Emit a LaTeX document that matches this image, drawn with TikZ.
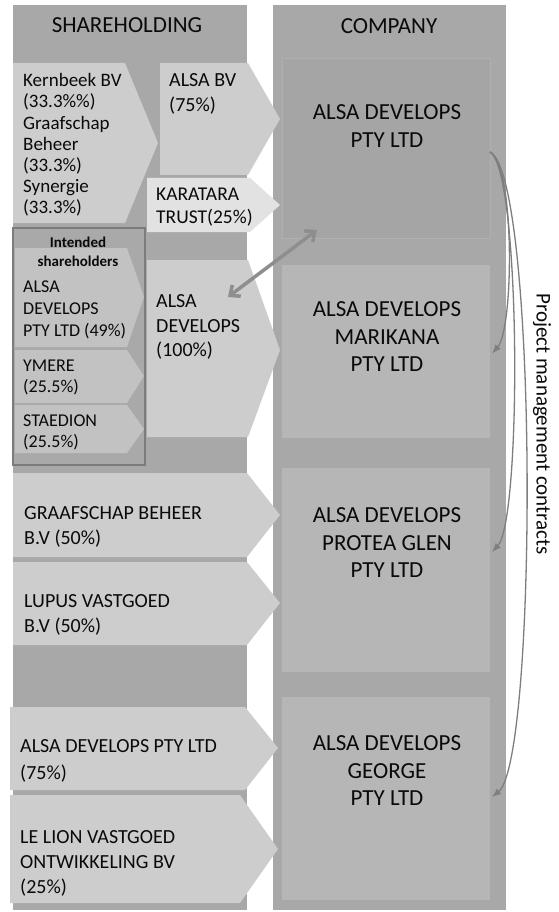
\documentclass[tikz,border=0pt]{standalone}
\usepackage{fontspec}
\setmainfont{Carlito}
\usetikzlibrary{arrows.meta,calc}
\definecolor{colbg}{HTML}{A8A8A8}
\definecolor{chev}{HTML}{CDCDCD}
\definecolor{chevlight}{HTML}{E2E2E2}
\definecolor{innerchev}{HTML}{C2C2C2}
\definecolor{intbg}{HTML}{A9A9A9}
\definecolor{intborder}{HTML}{7C7C7C}
\definecolor{compA}{HTML}{A5A5A5}
\definecolor{compAborder}{HTML}{B0B0B0}
\definecolor{compB}{HTML}{B6B6B6}
\definecolor{arrowgray}{HTML}{8E8E8E}
\definecolor{curvegray}{HTML}{7E7E7E}
\definecolor{txt}{HTML}{0A0A0A}
\tikzset{
  colbox/.style={fill=colbg, draw=none},
  chevshape/.style={fill=chev, draw=none},
  ltext/.style={anchor=west, align=left, inner sep=0pt, text=txt},
  ctext/.style={anchor=center, align=center, inner sep=0pt, text=txt},
  compbox/.style={draw=none, inner sep=0pt},
  pmarrow/.style={draw=curvegray, line width=1.3pt, -{Latex[length=9pt,width=7pt]}},
  dblarrow/.style={draw=arrowgray, line width=3.5pt, {Straight Barb[length=8pt,width=14pt]}-{Straight Barb[length=8pt,width=14pt]}}
}
\begin{document}
\begin{tikzpicture}[x=1pt,y=-1pt]
\useasboundingbox (0,0) rectangle (558,912);
\fill[white] (0,0) rectangle (558,912);
% columns
\path[colbox] (13,5) rectangle (247,910);
\path[colbox] (273,5) rectangle (506,910);
% headers
\node[ctext, font=\fontsize{23}{27}\selectfont] (hshare) at (127,25) {SHAREHOLDING};
\node[ctext, font=\fontsize{23}{27}\selectfont] (hcomp) at (389,26) {COMPANY};
% company boxes
\node[compbox, fill=compA, draw=compAborder, line width=0.8pt, minimum width=208pt, minimum height=180pt] (c1) at (386,148) {};
\node[compbox, fill=compB, minimum width=208pt, minimum height=173pt] (c2) at (386,351.5) {};
\node[compbox, fill=compB, minimum width=208pt, minimum height=204pt] (c3) at (386,570) {};
\node[compbox, fill=compB, minimum width=208pt, minimum height=203pt] (c4) at (386,798.5) {};
\begin{scope}[font=\fontsize{23}{27.5}\selectfont]
\node[ctext] (c1t) at (387,126) {ALSA DEVELOPS\\PTY LTD};
\node[ctext] (c2t) at (387,337) {ALSA DEVELOPS\\MARIKANA\\PTY LTD};
\node[ctext] (c3t) at (387,543) {ALSA DEVELOPS\\PROTEA GLEN\\PTY LTD};
\node[ctext] (c4t) at (387,771) {ALSA DEVELOPS\\GEORGE\\PTY LTD};
\end{scope}
% chevrons
\path[chevshape] (13,63) -- (125,63) -- (158,143) -- (125,223) -- (13,223) -- cycle;
\path[chevshape] (160,63) -- (248,63) -- (280,119) -- (248,175) -- (160,175) -- cycle;
\path[chevshape, fill=chevlight] (147,178) -- (250,178) -- (280,205) -- (250,232) -- (147,232) -- cycle;
\path[chevshape] (147,260) -- (248,260) -- (280,350) -- (248,437) -- (147,437) -- cycle;
\path[chevshape] (13,473) -- (247,473) -- (280,515) -- (247,557) -- (13,557) -- cycle;
\path[chevshape] (13,562) -- (247,562) -- (280,603) -- (247,645) -- (13,645) -- cycle;
\path[chevshape] (10,707) -- (245,707) -- (278,748) -- (245,790) -- (10,790) -- cycle;
\path[chevshape] (10,795) -- (240,795) -- (278,849) -- (240,903) -- (10,903) -- cycle;
% intended shareholders box
\path[fill=intbg, draw=intborder, line width=1.5pt] (13,228) rectangle (145,465);
\path[fill=innerchev] (15,248) -- (127,248) -- (144,297) -- (127,347) -- (15,347) -- cycle;
\path[fill=innerchev] (15,350) -- (127,350) -- (144,376) -- (127,403) -- (15,403) -- cycle;
\path[fill=innerchev] (15,405) -- (127,405) -- (144,429) -- (127,453) -- (15,453) -- cycle;
\node[ctext, font=\bfseries\fontsize{15}{19}\selectfont] (ish) at (78,252) {Intended\\shareholders};
% shareholder texts
\node[ltext, font=\fontsize{19}{21.2}\selectfont] (kern) at (23,145) {Kernbeek BV\\(33.3\%\%)\\Graafschap\\Beheer\\(33.3\%)\\Synergie\\(33.3\%)};
\node[ltext, font=\fontsize{20}{25}\selectfont] (alsabv) at (169,94) {ALSA BV\\(75\%)};
\node[ltext, font=\fontsize{19.5}{23.5}\selectfont] (kara) at (156,207) {KARATARA\\TRUST(25\%)};
\node[ltext, font=\fontsize{18}{22}\selectfont] (ad49) at (23,310) {ALSA\\DEVELOPS\\PTY LTD (49\%)};
\node[ltext, font=\fontsize{18}{21}\selectfont] (ymere) at (23,377) {YMERE\\(25.5\%)};
\node[ltext, font=\fontsize{18}{21}\selectfont] (staed) at (23,432) {STAEDION\\(25.5\%)};
\node[ltext, font=\fontsize{20}{24.5}\selectfont] (ad100) at (156,327) {ALSA\\DEVELOPS\\(100\%)};
\node[ltext, font=\fontsize{20}{25}\selectfont] (graaf) at (24,527) {GRAAFSCHAP BEHEER\\B.V (50\%)};
\node[ltext, font=\fontsize{20}{25}\selectfont] (lupus) at (24,615) {LUPUS VASTGOED\\B.V (50\%)};
\node[ltext, font=\fontsize{20}{26.5}\selectfont] (ad75) at (20,761) {ALSA DEVELOPS PTY LTD\\(75\%)};
\node[ltext, font=\fontsize{20}{25}\selectfont] (lelion) at (20,863) {LE LION VASTGOED\\ONTWIKKELING BV\\(25\%)};
% double arrow
\coordinate (da1) at (228,297);
\coordinate (da2) at (317,230);
\draw[dblarrow] (da1) -- (da2);
% project management curves
\coordinate (pmstart) at (490,152);
\coordinate (pm2) at ($(c2.east)+(2,2)$);
\coordinate (pm3) at (492,552);
\coordinate (pm4) at (492,797);
\draw[pmarrow] (pmstart) .. controls (515,165) and (514,328) .. (pm2);
\draw[pmarrow] (pmstart) .. controls (521,170) and (522,520) .. (pm3);
\draw[pmarrow] (pmstart) .. controls (538,175) and (538,760) .. (pm4);
\node[ctext, rotate=-90, font=\fontsize{21}{25}\selectfont] (pmlabel) at (542,424) {Project management contracts};
\end{tikzpicture}
\end{document}
